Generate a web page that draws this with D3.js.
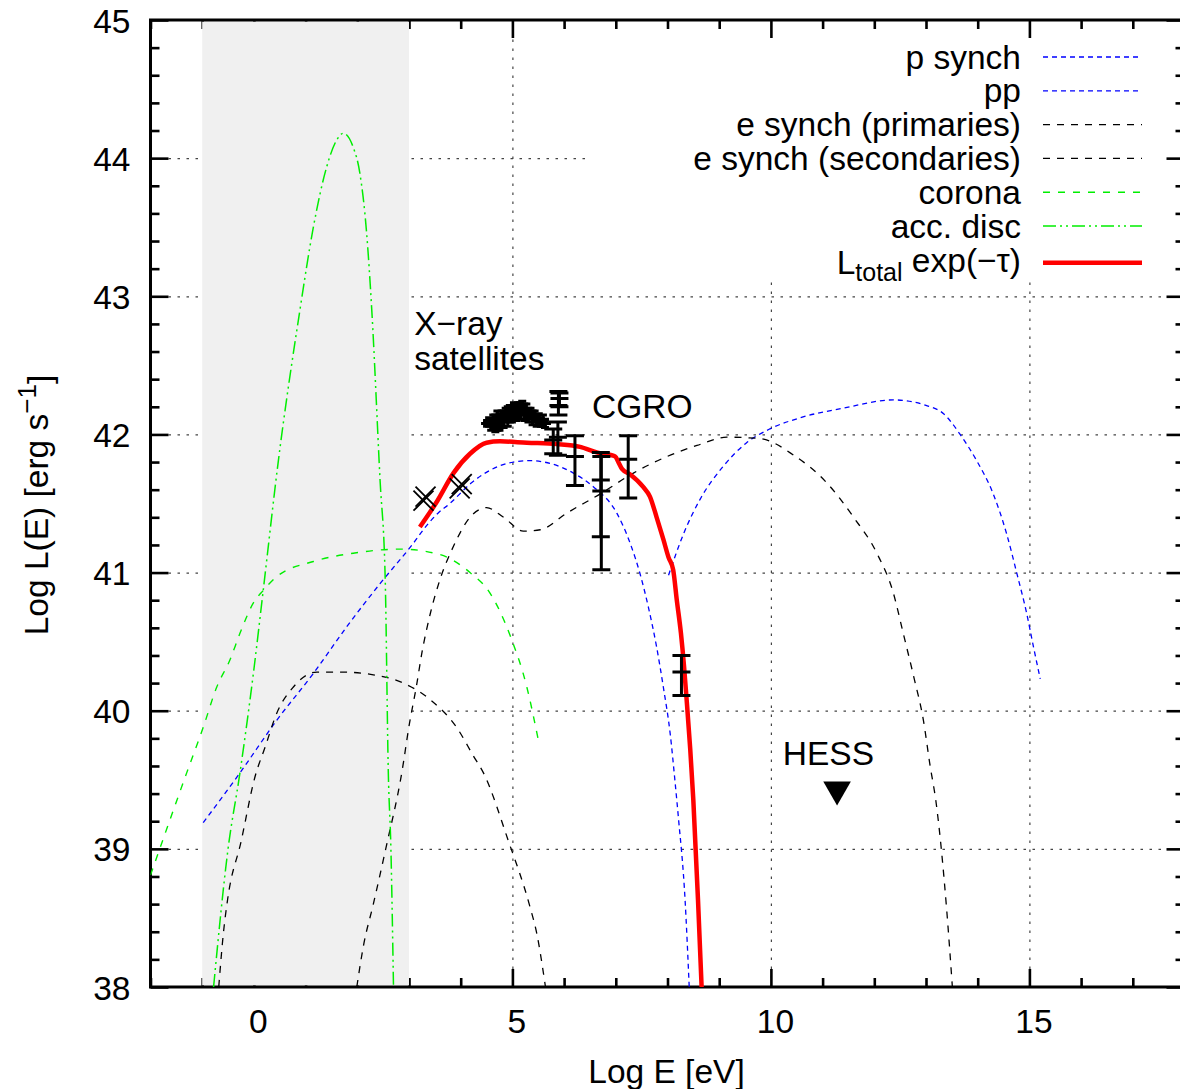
<!DOCTYPE html>
<html>
<head>
<meta charset="utf-8">
<script src="https://cdn.jsdelivr.net/npm/d3@7"></script>
<style>
  body { margin: 0; background: #fff; }
  svg text { font-family: "Liberation Sans", Arial, sans-serif; font-size: 33.5px; fill: #000; }
</style>
</head>
<body>
<div id="chart"></div>
<script>
// tick labels
const xTickLabels = [0, 5, 10, 15]
const yTickLabels = [38, 39, 40, 41, 42, 43, 44, 45]

// model curves [log E, log L]
const pSynch = [[8.02,40.98],[8.31,41.28],[8.63,41.53],[9.08,41.77],[9.53,41.94],[9.98,42.04],[10.56,42.12],[11.4,42.19],[12.37,42.25],[13.0,42.21],[13.34,42.15],[13.66,42.0],[13.98,41.81],[14.3,41.57],[14.56,41.28],[14.76,40.99],[14.95,40.7],[15.08,40.46],[15.21,40.23]]
const pp = [[-0.98,39.19],[-0.27,39.55],[0.44,39.93],[1.15,40.27],[1.8,40.61],[2.44,40.92],[3.08,41.21],[3.34,41.34],[3.56,41.43],[3.79,41.5],[4.21,41.65],[4.43,41.71],[5.02,41.8],[5.34,41.81],[5.73,41.79],[6.18,41.72],[6.57,41.62],[7.02,41.43],[7.28,41.21],[7.47,40.99],[7.63,40.75],[7.79,40.46],[7.92,40.17],[8.05,39.84],[8.15,39.47],[8.21,39.23],[8.34,38.63],[8.42,38.0]]
const eSynchPrim = [[-0.68,38.0],[-0.59,38.39],[-0.51,38.63],[-0.25,39.05],[0.02,39.52],[0.22,39.74],[0.44,39.98],[0.76,40.17],[1.22,40.28],[1.67,40.28],[2.31,40.26],[2.89,40.2],[3.41,40.08],[3.92,39.88],[4.25,39.67],[4.44,39.55],[4.92,39.06],[5.34,38.58],[5.47,38.39],[5.64,38.0]]
const eSynchSec = [[1.99,38.0],[2.12,38.3],[2.31,38.6],[2.55,39.0],[2.86,39.55],[3.01,39.91],[3.14,40.17],[3.25,40.42],[3.41,40.7],[3.6,40.95],[3.86,41.19],[4.18,41.4],[4.5,41.47],[4.83,41.4],[5.21,41.3],[5.54,41.31],[6.05,41.43],[6.7,41.57],[7.34,41.72],[7.99,41.84],[8.57,41.92],[9.15,41.98],[9.79,41.97],[10.44,41.85],[11.08,41.65],[11.6,41.4],[12.05,41.14],[12.37,40.85],[12.56,40.56],[12.76,40.25],[12.95,39.93],[13.08,39.6],[13.19,39.35],[13.4,38.56],[13.51,38.0]]
const corona = [[-2.0,38.81],[-1.3,39.55],[-0.98,39.88],[-0.72,40.17],[-0.46,40.37],[-0.27,40.56],[-0.01,40.78],[0.18,40.87],[0.44,40.97],[1.15,41.08],[1.92,41.14],[2.83,41.17],[3.6,41.13],[4.18,41.0],[4.57,40.85],[4.96,40.54],[5.28,40.17],[5.5,39.79]]
const accDisc = [[-0.78,38.0],[-0.5,39.0],[-0.27,39.55],[0.0,40.3],[0.18,40.87],[0.47,41.8],[0.89,42.9],[1.15,43.5],[1.41,43.94],[1.6,44.13],[1.73,44.18],[1.92,44.08],[2.05,43.89],[2.18,43.46],[2.28,42.9],[2.44,41.67],[2.54,40.95],[2.6,39.55],[2.65,39.0],[2.7,38.0]]
const total = [[3.21,41.33],[3.55,41.52],[3.86,41.72],[4.18,41.86],[4.5,41.94],[4.76,41.95],[5.28,41.94],[5.86,41.93],[6.31,41.91],[6.63,41.87],[6.99,41.84],[7.05,41.8],[7.12,41.75],[7.28,41.71],[7.53,41.62],[7.66,41.55],[7.79,41.4],[7.92,41.24],[8.02,41.11],[8.11,41.02],[8.18,40.8],[8.26,40.56],[8.32,40.32],[8.37,40.08],[8.44,39.72],[8.5,39.35],[8.59,38.63],[8.66,38.0]]

// observations
const xrayCrossX = [3.28, 3.32, 3.98, 4.02]
const xrayCrossY = [41.52, 41.55, 41.61, 41.64]
const xrayX = [4.51,4.55,4.59,4.63,4.67,4.71,4.75,4.79,4.83,4.87,4.91,4.95,4.99,5.03,5.07,5.11,5.15,5.19,5.23,5.27,5.31,5.35,5.39,5.43,5.47,5.51,5.55,5.59,5.63]
const xrayY = [42.08,42.09,42.07,42.09,42.08,42.10,42.09,42.12,42.11,42.14,42.13,42.15,42.14,42.17,42.16,42.18,42.17,42.19,42.16,42.17,42.14,42.15,42.12,42.13,42.10,42.11,42.09,42.10,42.08]
const xrayErr = [0.02,0.03,0.04,0.05,0.06,0.07,0.06,0.05,0.06,0.05,0.07,0.06,0.05,0.06,0.06,0.05,0.06,0.05,0.06,0.05,0.05,0.04,0.05,0.04,0.04,0.04,0.03,0.04,0.03]
const cgroX  = [5.79, 5.88, 5.89, 5.91, 6.21, 6.71, 6.72, 7.24, 8.27]
const cgroY  = [41.96, 41.98, 42.21, 42.26, 41.84, 41.67, 41.59, 41.82, 40.28]
const cgroLo = [41.86, 41.85, 42.14, 42.20, 41.63, 41.26, 41.02, 41.54, 40.11]
const cgroHi = [42.04, 42.09, 42.31, 42.30, 41.99, 41.87, 41.84, 41.99, 40.40]
const hessX = [11.28]
const hessY = [39.43]

const legendLabels = ["p synch", "pp", "e synch (primaries)", "e synch (secondaries)", "corona", "acc. disc", "L_total"]

const width = 1180, height = 1089
const pLeft = 150.5, pRight = 1184.5, pTop = 20, pBottom = 987

const x = d3.scaleLinear().domain([-2, 18]).range([pLeft, pRight])
const y = d3.scaleLinear().domain([38, 45]).range([pBottom, pTop])

const svg = d3.select("#chart").append("svg")
  .attr("width", width)
  .attr("height", height)

svg.append("defs").append("clipPath").attr("id", "plotclip")
  .append("rect")
  .attr("x", pLeft).attr("y", pTop)
  .attr("width", pRight - pLeft).attr("height", pBottom - pTop)

// grid
const gridX = svg.append("g")
  .attr("transform", "translate(0," + pBottom + ")")
  .call(d3.axisBottom(x).tickValues(xTickLabels).tickSize(-(pBottom - pTop)).tickFormat(""))
const gridY = svg.append("g")
  .attr("transform", "translate(" + pLeft + ",0)")
  .call(d3.axisLeft(y).tickValues(yTickLabels.slice(1, -1)).tickSize(-(pRight - pLeft)).tickFormat(""))
;[gridX, gridY].forEach(g => {
  g.select(".domain").remove()
  g.selectAll(".tick line")
    .attr("stroke", "#444")
    .attr("stroke-width", 1.2)
    .attr("stroke-dasharray", "2.5,6.5")
})

// opaque key box
svg.append("rect")
  .attr("x", 590).attr("y", pTop + 1)
  .attr("width", pRight - 590).attr("height", 261)
  .attr("fill", "#fff")

// ticks
const xMinor = d3.range(-2, 19).filter(v => v % 5 !== 0)
const yMinor = d3.range(38, 45.001, 0.2).filter(v => Math.abs(v - Math.round(v)) > 0.01)

function ticks(axis, values, size, tr, labels) {
  const g = svg.append("g").attr("transform", tr)
    .call(axis.tickValues(values).tickSize(size).tickFormat(labels ? d3.format("d") : ""))
  g.select(".domain").remove()
  g.selectAll(".tick line").attr("stroke", "#000").attr("stroke-width", 2.6)
  return g
}

const xAxisG = ticks(d3.axisBottom(x).tickPadding(22), xTickLabels, -18, "translate(0," + pBottom + ")", true)
xAxisG.selectAll("text").attr("dx", 4)
ticks(d3.axisBottom(x), xMinor, -9, "translate(0," + pBottom + ")", false)
ticks(d3.axisTop(x), xTickLabels, -18, "translate(0," + pTop + ")", false)
ticks(d3.axisTop(x), xMinor, -9, "translate(0," + pTop + ")", false)
const yAxisG = ticks(d3.axisLeft(y).tickPadding(20), yTickLabels, -18, "translate(" + pLeft + ",0)", true)
yAxisG.selectAll("text").attr("dy", "0.36em")
ticks(d3.axisLeft(y), yMinor, -9, "translate(" + pLeft + ",0)", false)
ticks(d3.axisRight(y), yTickLabels, -18, "translate(" + pRight + ",0)", false)
ticks(d3.axisRight(y), yMinor, -9, "translate(" + pRight + ",0)", false)

// shaded band
svg.append("rect")
  .attr("x", x(-1)).attr("y", pTop + 1.5)
  .attr("width", x(3) - x(-1)).attr("height", pBottom - pTop - 3)
  .attr("fill", "#f0f0f0")

// frame
svg.append("rect")
  .attr("x", pLeft).attr("y", pTop)
  .attr("width", pRight - pLeft).attr("height", pBottom - pTop)
  .attr("fill", "none")
  .attr("stroke", "#000")
  .attr("stroke-width", 3)

// axis titles
svg.append("text")
  .attr("x", (pLeft + pRight) / 2 - 1)
  .attr("y", 1083)
  .attr("text-anchor", "middle")
  .text("Log E [eV]")

const yTitle = svg.append("text")
  .attr("transform", "translate(48,505) rotate(-90)")
  .attr("text-anchor", "middle")
yTitle.append("tspan").text("Log L(E) [erg s")
yTitle.append("tspan").attr("dy", "-0.45em").style("font-size", "26px").text("−1")
yTitle.append("tspan").attr("dy", "0.45em").text("]")

// curves
const line = d3.line()
  .x(d => x(d[0]))
  .y(d => y(d[1]))
  .curve(d3.curveMonotoneX)

const series = [
  { name: "p synch", data: pSynch, color: "#0000ff", dash: "5,4", w: 1.3 },
  { name: "pp", data: pp, color: "#0000ff", dash: "5,4", w: 1.3 },
  { name: "e synch (primaries)", data: eSynchPrim, color: "#000", dash: "7,7", w: 1.3 },
  { name: "e synch (secondaries)", data: eSynchSec, color: "#000", dash: "7,7", w: 1.3 },
  { name: "corona", data: corona, color: "#00ee00", dash: "7,8", w: 1.4 },
  { name: "acc. disc", data: accDisc, color: "#00ee00", dash: "13,4,2,4,2,4", w: 1.5 },
  { name: "L_total", data: total, color: "#ff0000", dash: null, w: 4.5 }
]

const curves = svg.append("g").attr("clip-path", "url(#plotclip)")
curves.selectAll("path")
  .data(series)
  .enter()
  .append("path")
  .attr("d", d => line(d.data))
  .attr("fill", "none")
  .attr("stroke", d => d.color)
  .attr("stroke-width", d => d.w)
  .attr("stroke-dasharray", d => d.dash)

// x-ray crosses
const marks = svg.append("g").attr("stroke", "#000").attr("fill", "none")
xrayCrossX.forEach((v, i) => {
  const cx = x(v), cy = y(xrayCrossY[i]), r = 10
  marks.append("path")
    .attr("d", "M" + (cx - r) + "," + (cy - r) + "L" + (cx + r) + "," + (cy + r) +
               "M" + (cx - r) + "," + (cy + r) + "L" + (cx + r) + "," + (cy - r))
    .attr("stroke-width", 1.8)
})

// x-ray satellite spectrum
xrayX.forEach((v, i) => {
  const cx = x(v), lo = y(xrayY[i] - xrayErr[i]), hi = y(xrayY[i] + xrayErr[i]), cy = y(xrayY[i])
  marks.append("path")
    .attr("d", "M" + cx + "," + lo + "V" + hi +
               "M" + (cx - 4) + "," + lo + "H" + (cx + 4) +
               "M" + (cx - 4) + "," + hi + "H" + (cx + 4) +
               "M" + (cx - 6) + "," + cy + "H" + (cx + 6))
    .attr("stroke-width", 3)
})

// CGRO error bars
cgroX.forEach((v, i) => {
  const cx = x(v), lo = y(cgroLo[i]), hi = y(cgroHi[i]), cy = y(cgroY[i]), c = 9
  marks.append("path")
    .attr("d", "M" + cx + "," + lo + "V" + hi +
               "M" + (cx - c) + "," + lo + "H" + (cx + c) +
               "M" + (cx - c) + "," + hi + "H" + (cx + c) +
               "M" + (cx - c) + "," + cy + "H" + (cx + c))
    .attr("stroke-width", 3)
})

// HESS upper limit
svg.append("g").selectAll("path")
  .data(hessX)
  .enter()
  .append("path")
  .attr("d", d3.symbol().type(d3.symbolTriangle).size(330))
  .attr("transform", (d, i) => "translate(" + x(d) + "," + y(hessY[i]) + ") rotate(180)")
  .attr("fill", "#000")

// annotations
svg.append("text").attr("x", x(3.1)).attr("y", y(42.72)).text("X−ray")
svg.append("text").attr("x", x(3.1)).attr("y", y(42.47)).text("satellites")
svg.append("text").attr("x", x(6.54)).attr("y", y(42.12)).text("CGRO")
svg.append("text").attr("x", x(10.23)).attr("y", y(39.61)).text("HESS")

// key
const key = svg.append("g")
series.forEach((s, i) => {
  const ky = 57 + i * 33.8 + (i === 6 ? 3 : 0)
  const t = key.append("text")
    .attr("x", 1021)
    .attr("y", ky + 11.5)
    .attr("text-anchor", "end")
  if (legendLabels[i] === "L_total") {
    t.append("tspan").text("L")
    t.append("tspan").attr("dy", "0.25em").style("font-size", "25px").text("total")
    t.append("tspan").attr("dy", "-0.25em").text(" exp(−τ)")
  } else {
    t.text(legendLabels[i])
  }
  key.append("line")
    .attr("x1", 1043).attr("x2", 1142)
    .attr("y1", ky).attr("y2", ky)
    .attr("stroke", s.color)
    .attr("stroke-width", s.w)
    .attr("stroke-dasharray", s.dash)
})
</script>
</body>
</html>
